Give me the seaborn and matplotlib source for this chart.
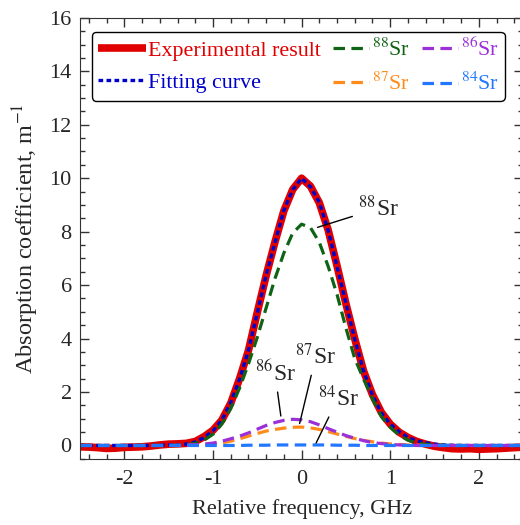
import matplotlib
matplotlib.use("Agg")
import matplotlib.pyplot as plt
import seaborn as sns
import pandas as pd
from matplotlib.ticker import MultipleLocator
from matplotlib.legend_handler import HandlerLine2D

# frequency grid, GHz
freq = [-2.5, -2.4, -2.3, -2.2, -2.1, -2.0, -1.9, -1.8, -1.7, -1.6,
        -1.5, -1.4, -1.3, -1.2, -1.1, -1.0, -0.9, -0.8, -0.7, -0.6,
        -0.5, -0.4, -0.3, -0.2, -0.1, 0.0, 0.1, 0.2, 0.3, 0.4,
        0.5, 0.6, 0.7, 0.8, 0.9, 1.0, 1.1, 1.2, 1.3, 1.4,
        1.5, 1.6, 1.7, 1.8, 1.9, 2.0, 2.1, 2.2, 2.3, 2.4, 2.5]

experimental = [-0.05, -0.06, -0.08, -0.11, -0.10, -0.07, -0.06, -0.05, -0.02, 0.02,
                0.05, 0.06, 0.08, 0.15, 0.33, 0.57, 0.95, 1.58, 2.50, 3.55,
                4.98, 6.36, 7.62, 8.78, 9.58, 10.0, 9.70, 9.08, 8.06, 6.72,
                5.31, 3.99, 2.78, 1.90, 1.24, 0.80, 0.50, 0.30, 0.15, 0.05,
                -0.03, -0.08, -0.12, -0.13, -0.12, -0.14, -0.13, -0.12, -0.10, -0.08, -0.06]

fitting = [0.0, 0.0, 0.0, 0.0, 0.0, 0.0, 0.0, 0.0, 0.0, 0.01,
           0.02, 0.03, 0.05, 0.13, 0.30, 0.55, 0.95, 1.60, 2.48, 3.56,
           4.96, 6.38, 7.60, 8.80, 9.57, 10.0, 9.68, 9.10, 8.05, 6.70,
           5.33, 3.98, 2.78, 1.88, 1.22, 0.80, 0.52, 0.30, 0.17, 0.10,
           0.05, 0.02, 0.01, 0.0, 0.0, 0.0, 0.0, 0.0, 0.0, 0.0, 0.0]

sr88 = [0.0, 0.0, 0.0, 0.0, 0.0, 0.0, 0.0, 0.0, 0.0, 0.0,
        0.0, 0.01, 0.03, 0.08, 0.20, 0.42, 0.80, 1.38, 2.15, 3.05,
        4.05, 5.15, 6.25, 7.20, 7.95, 8.28, 8.15, 7.60, 6.70, 5.65,
        4.40, 3.25, 2.48, 1.75, 1.08, 0.68, 0.39, 0.20, 0.09, 0.04,
        0.02, 0.01, 0.0, 0.0, 0.0, 0.0, 0.0, 0.0, 0.0, 0.0, 0.0]

sr87 = [0.0, 0.0, 0.0, 0.0, 0.0, 0.0, 0.0, 0.0, 0.0, 0.0,
        0.0, 0.0, 0.01, 0.02, 0.04, 0.06, 0.10, 0.16, 0.25, 0.35,
        0.45, 0.54, 0.60, 0.65, 0.68, 0.69, 0.66, 0.60, 0.52, 0.43,
        0.34, 0.26, 0.19, 0.14, 0.09, 0.06, 0.04, 0.02, 0.01, 0.0,
        0.0, 0.0, 0.0, 0.0, 0.0, 0.0, 0.0, 0.0, 0.0, 0.0, 0.0]

sr86 = [0.0, 0.0, 0.0, 0.0, 0.0, 0.0, 0.0, 0.0, 0.0, 0.0,
        0.0, 0.01, 0.02, 0.03, 0.05, 0.09, 0.16, 0.25, 0.35, 0.47,
        0.61, 0.75, 0.86, 0.94, 0.98, 0.96, 0.89, 0.77, 0.63, 0.50,
        0.37, 0.27, 0.18, 0.11, 0.07, 0.04, 0.02, 0.01, 0.0, 0.0,
        0.0, 0.0, 0.0, 0.0, 0.0, 0.0, 0.0, 0.0, 0.0, 0.0, 0.0]

sr84 = [0.0, 0.0, 0.0, 0.0, 0.0, 0.0, 0.0, 0.0, 0.0, 0.0,
        0.0, 0.0, 0.0, 0.0, 0.0, 0.0, 0.0, 0.0, 0.0, 0.01,
        0.01, 0.01, 0.02, 0.02, 0.02, 0.02, 0.02, 0.02, 0.02, 0.01,
        0.01, 0.01, 0.0, 0.0, 0.0, 0.0, 0.0, 0.0, 0.0, 0.0,
        0.0, 0.0, 0.0, 0.0, 0.0, 0.0, 0.0, 0.0, 0.0, 0.0, 0.0]

df = pd.DataFrame({"freq": freq, "exp": experimental, "fit": fitting,
                   "sr88": sr88, "sr87": sr87, "sr86": sr86, "sr84": sr84})

sns.set_style("ticks")
plt.rcParams["font.family"] = ["Liberation Serif", "DejaVu Serif"]
plt.rcParams["mathtext.fontset"] = "stix"
plt.rcParams["axes.unicode_minus"] = False

fig, ax = plt.subplots(figsize=(5.2, 5.25), dpi=100)
fig.subplots_adjust(left=0.154, right=1.006, bottom=0.126, top=0.966)

sns.lineplot(data=df, x="freq", y="exp", ax=ax, color="#e00000", lw=5.5,
             solid_capstyle="butt", label="Experimental result")
sns.lineplot(data=df, x="freq", y="fit", ax=ax, color="#0000cc", lw=2.4,
             dashes=(1.4, 1.0), label="Fitting curve")
sns.lineplot(data=df, x="freq", y="sr88", ax=ax, color="#0e6414", lw=2.3,
             dashes=(3.6, 2.0), label=r"$^{88}$Sr")
sns.lineplot(data=df, x="freq", y="sr87", ax=ax, color="#ff8c1a", lw=2.3,
             dashes=(3.6, 2.0), label=r"$^{87}$Sr")
sns.lineplot(data=df, x="freq", y="sr86", ax=ax, color="#9b30d9", lw=2.3,
             dashes=(3.6, 2.0), label=r"$^{86}$Sr")
sns.lineplot(data=df, x="freq", y="sr84", ax=ax, color="#2277ff", lw=2.3,
             dashes=(3.6, 2.0), label=r"$^{84}$Sr")

ax.set_xlim(-2.5, 2.5)
ax.set_ylim(-0.5, 16)
ax.xaxis.set_major_locator(MultipleLocator(1))
ax.xaxis.set_minor_locator(MultipleLocator(0.2))
ax.yaxis.set_major_locator(MultipleLocator(2))
ax.yaxis.set_minor_locator(MultipleLocator(0.5))
ax.tick_params(which="both", direction="in", top=True, right=True,
               color="#333333", labelsize=16)
ax.tick_params(which="major", length=6.5, width=1)
ax.tick_params(which="minor", length=3.5, width=1)
ax.tick_params(axis="x", which="major", pad=8)
ax.tick_params(axis="y", which="major", pad=6)
for s in ax.spines.values():
    s.set_color("#333333")
ax.set_xlabel("Relative frequency, GHz", fontsize=16, labelpad=7)
ax.set_ylabel(r"Absorption coefficient, m$^{-1}$", fontsize=17.5, labelpad=6)

# isotope labels
ann = dict(arrowprops=dict(arrowstyle="-", color="black", lw=1), fontsize=17,
           ha="center", va="center")
ax.annotate(r"$^{88}$Sr", xy=(0.15, 8.13), xytext=(0.87, 8.88), **ann)
ax.annotate(r"$^{86}$Sr", xy=(-0.23, 1.0), xytext=(-0.30, 2.7), **ann)
ax.annotate(r"$^{87}$Sr", xy=(-0.03, 0.72), xytext=(0.16, 3.33), **ann)
ax.annotate(r"$^{84}$Sr", xy=(0.15, 0.0), xytext=(0.41, 1.76), **ann)

# shorter legend handles for the isotope entries
handles, labels = ax.get_legend_handles_labels()
short = HandlerLine2D(xpad=0.55)
hmap = {h: short for h in handles[2:]}
leg = ax.legend(handles, labels, handler_map=hmap,
                loc="upper left", bbox_to_anchor=(0.027, 0.968), ncol=3,
                fontsize=15.8, labelcolor="linecolor", fancybox=True,
                edgecolor="black", framealpha=1, handlelength=2.2,
                handletextpad=0.12, columnspacing=0.0, labelspacing=0.55,
                borderpad=0.25, borderaxespad=0.0)
leg.get_frame().set_linewidth(1.0)

plt.savefig("out.png", dpi=100)
plt.close()
